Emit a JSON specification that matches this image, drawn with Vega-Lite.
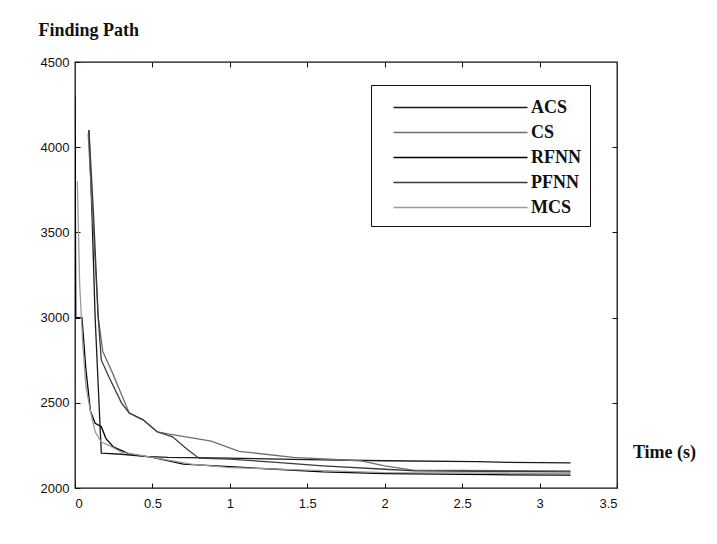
{
  "$schema": "https://vega.github.io/schema/vega-lite/v6.json",
  "autosize": {"type": "none"},
  "width": 542,
  "height": 426,
  "padding": {"left": 75, "top": 62, "right": 100, "bottom": 56},
  "background": "#ffffff",
  "config": {
    "view": {"stroke": "#111", "strokeWidth": 1.3},
    "axis": {"grid": false, "domain": false, "tickColor": "#111", "tickSize": -5, "labelFont": "Liberation Sans", "labelFontSize": 13, "labelColor": "#111"}
  },
  "data": {"values": [
    {"s":"ACS","t":0.09,"v":4100},{"s":"ACS","t":0.11,"v":3600},{"s":"ACS","t":0.13,"v":3000},{"s":"ACS","t":0.15,"v":2600},{"s":"ACS","t":0.165,"v":2300},{"s":"ACS","t":0.17,"v":2205},{"s":"ACS","t":0.3,"v":2198},{"s":"ACS","t":0.45,"v":2185},{"s":"ACS","t":0.6,"v":2180},{"s":"ACS","t":1.0,"v":2175},{"s":"ACS","t":1.5,"v":2166},{"s":"ACS","t":2.0,"v":2160},{"s":"ACS","t":2.6,"v":2155},{"s":"ACS","t":2.8,"v":2150},{"s":"ACS","t":3.2,"v":2148},
    {"s":"CS","t":0.085,"v":4080},{"s":"CS","t":0.12,"v":3500},{"s":"CS","t":0.15,"v":3000},{"s":"CS","t":0.18,"v":2800},{"s":"CS","t":0.24,"v":2680},{"s":"CS","t":0.35,"v":2440},{"s":"CS","t":0.44,"v":2400},{"s":"CS","t":0.53,"v":2330},{"s":"CS","t":0.61,"v":2316},{"s":"CS","t":0.88,"v":2275},{"s":"CS","t":1.06,"v":2215},{"s":"CS","t":1.41,"v":2180},{"s":"CS","t":1.84,"v":2160},{"s":"CS","t":2.0,"v":2130},{"s":"CS","t":2.18,"v":2105},{"s":"CS","t":3.2,"v":2100},
    {"s":"RFNN","t":0.0,"v":4300},{"s":"RFNN","t":0.005,"v":3000},{"s":"RFNN","t":0.045,"v":3000},{"s":"RFNN","t":0.07,"v":2700},{"s":"RFNN","t":0.1,"v":2450},{"s":"RFNN","t":0.13,"v":2380},{"s":"RFNN","t":0.17,"v":2360},{"s":"RFNN","t":0.2,"v":2290},{"s":"RFNN","t":0.25,"v":2240},{"s":"RFNN","t":0.35,"v":2200},{"s":"RFNN","t":0.5,"v":2180},{"s":"RFNN","t":0.7,"v":2140},{"s":"RFNN","t":1.0,"v":2125},{"s":"RFNN","t":1.3,"v":2110},{"s":"RFNN","t":1.6,"v":2095},{"s":"RFNN","t":2.0,"v":2085},{"s":"RFNN","t":2.7,"v":2078},{"s":"RFNN","t":3.2,"v":2075},
    {"s":"PFNN","t":0.09,"v":4100},{"s":"PFNN","t":0.12,"v":3600},{"s":"PFNN","t":0.15,"v":3000},{"s":"PFNN","t":0.17,"v":2750},{"s":"PFNN","t":0.22,"v":2650},{"s":"PFNN","t":0.3,"v":2500},{"s":"PFNN","t":0.35,"v":2440},{"s":"PFNN","t":0.44,"v":2400},{"s":"PFNN","t":0.53,"v":2330},{"s":"PFNN","t":0.63,"v":2300},{"s":"PFNN","t":0.72,"v":2230},{"s":"PFNN","t":0.8,"v":2175},{"s":"PFNN","t":1.0,"v":2170},{"s":"PFNN","t":1.3,"v":2150},{"s":"PFNN","t":1.6,"v":2130},{"s":"PFNN","t":2.0,"v":2110},{"s":"PFNN","t":2.2,"v":2100},{"s":"PFNN","t":3.2,"v":2095},
    {"s":"MCS","t":0.015,"v":3800},{"s":"MCS","t":0.03,"v":3200},{"s":"MCS","t":0.05,"v":2850},{"s":"MCS","t":0.07,"v":2600},{"s":"MCS","t":0.1,"v":2450},{"s":"MCS","t":0.13,"v":2330},{"s":"MCS","t":0.17,"v":2270},{"s":"MCS","t":0.22,"v":2250},{"s":"MCS","t":0.3,"v":2210},{"s":"MCS","t":0.5,"v":2180},{"s":"MCS","t":0.75,"v":2140},{"s":"MCS","t":1.0,"v":2120},{"s":"MCS","t":1.5,"v":2105},{"s":"MCS","t":2.0,"v":2090},{"s":"MCS","t":3.2,"v":2085}
  ]},
  "layer": [
    {
      "mark": {"type": "line", "strokeWidth": 1.3, "clip": true},
      "encoding": {
        "x": {"field": "t", "type": "quantitative", "scale": {"domain": [0, 3.5], "nice": false},
          "axis": {"orient": "bottom", "values": [0,0.5,1,1.5,2,2.5,3,3.5], "format": "~g", "labelPadding": 14, "title": "Time (s)", "titleFont": "Liberation Serif", "titleFontSize": 18, "titleFontWeight": "bold", "titleColor": "#111", "titleX": 589, "titleY": -36, "titleAlign": "center", "titleBaseline": "middle"}},
        "y": {"field": "v", "type": "quantitative", "scale": {"domain": [2000, 4500], "nice": false},
          "axis": {"orient": "left", "values": [2000,2500,3000,3500,4000,4500], "format": "d", "labelPadding": 11, "title": "Finding Path", "titleFont": "Liberation Serif", "titleFontSize": 18, "titleFontWeight": "bold", "titleColor": "#111", "titleAngle": 0, "titleAlign": "left", "titleBaseline": "middle", "titleX": -37, "titleY": -32}},
        "color": {"field": "s", "type": "nominal",
          "scale": {"domain": ["ACS","CS","RFNN","PFNN","MCS"], "range": ["#1a1a1a","#6e6e6e","#000000","#3a3a3a","#9a9a9a"]},
          "legend": {"title": null, "orient": "none", "legendX": 296, "legendY": 23, "symbolType": "M0,0H10.72", "symbolSize": 625, "symbolStrokeWidth": 1.6, "labelFont": "Liberation Serif", "labelFontSize": 18, "labelFontWeight": "bold", "labelColor": "#111", "labelOffset": 124, "rowPadding": 2, "strokeColor": "#111", "padding": 9, "fillColor": "#ffffff", "labelLimit": 90}}
      }
    },
    {
      "mark": {"type": "point", "opacity": 0},
      "encoding": {
        "x": {"field": "t", "type": "quantitative", "axis": {"orient": "top", "values": [0.5,1,1.5,2,2.5,3], "labels": false, "title": null}},
        "y": {"field": "v", "type": "quantitative", "axis": {"orient": "right", "values": [2500,3000,3500,4000], "labels": false, "title": null}}
      }
    }
  ],
  "resolve": {"axis": {"x": "independent", "y": "independent"}}
}
